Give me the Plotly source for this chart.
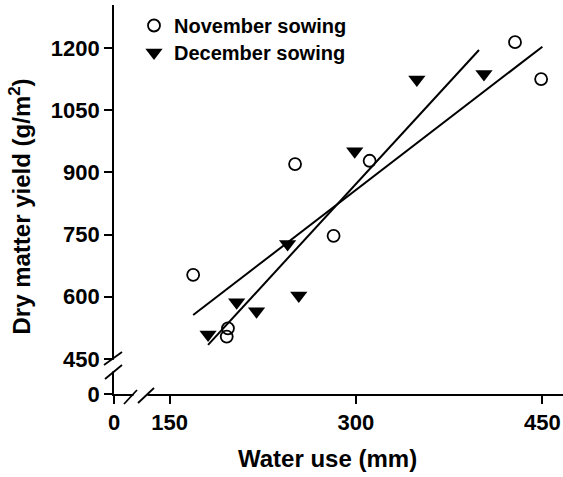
import plotly.graph_objects as go

# ---- data ----
nov_water = [169, 196, 197, 251, 282, 311, 428, 449]
nov_yield = [653, 504, 524, 920, 747, 928, 1214, 1125]
dec_water = [181, 204, 220, 245, 254, 299, 349, 403]
dec_yield = [509, 587, 565, 727, 603, 951, 1124, 1137]

# fitted regression lines (end points)
nov_fit_water = [169, 450]
nov_fit_yield = [556, 1203]
dec_fit_water = [181, 399]
dec_fit_yield = [484, 1195]

# axes (broken): "0" is drawn at the break position
x_zero_pos = 105.3
y_zero_pos = 365.6
x_tick_vals = [x_zero_pos, 150, 300, 450]
x_tick_text = ["0", "150", "300", "450"]
y_tick_vals = [y_zero_pos, 450, 600, 750, 900, 1050, 1200]
y_tick_text = ["0", "450", "600", "750", "900", "1050", "1200"]

W, H = 563, 477
ML, MR, MT, MB = 114, 0, 5, 83
PW = W - ML - MR
PH = H - MT - MB


def px(x):
    return (x - ML) / PW


def py(y):
    return (H - MB - y) / PH


FONT = "Liberation Sans, Arial, sans-serif"
BOLD = dict(family=FONT, color="black", weight="bold")

fig = go.Figure()
fig.add_trace(go.Scatter(x=nov_fit_water, y=nov_fit_yield, mode="lines",
                         line=dict(color="black", width=2), showlegend=False,
                         hoverinfo="skip"))
fig.add_trace(go.Scatter(x=dec_fit_water, y=dec_fit_yield, mode="lines",
                         line=dict(color="black", width=2), showlegend=False,
                         hoverinfo="skip"))
fig.add_trace(go.Scatter(x=nov_water, y=nov_yield, mode="markers",
                         name="November sowing", legend="legend",
                         marker=dict(symbol="circle-open", size=12,
                                     color="black", line=dict(width=1.8))))
fig.add_trace(go.Scatter(x=dec_water, y=dec_yield, mode="markers",
                         name="December sowing", legend="legend2",
                         marker=dict(symbol="triangle-down", size=15,
                                     color="black")))

shapes = []
# gaps in the axis lines at the breaks
shapes.append(dict(type="rect", xref="paper", yref="paper",
                   x0=px(110.5), x1=px(117), y0=py(371.5), y1=py(359.8),
                   fillcolor="white", line=dict(width=0), layer="above"))
shapes.append(dict(type="rect", xref="paper", yref="paper",
                   x0=px(133.5), x1=px(147.5), y0=py(397), y1=py(390),
                   fillcolor="white", line=dict(width=0), layer="above"))
# break slashes
for (x0, y0, x1, y1) in [(104, 365, 122, 352), (105, 379, 122, 365),
                         (124, 404, 137, 390), (138, 403, 154, 388)]:
    shapes.append(dict(type="line", xref="paper", yref="paper",
                       x0=px(x0), y0=py(y0), x1=px(x1), y1=py(y1),
                       line=dict(color="black", width=1.8), layer="above"))

annotations = [
    dict(text="Dry matter yield (g/m<sup>2</sup>)", xref="paper", yref="paper",
         x=px(19), y=py(206.5), textangle=-90, showarrow=False,
         xanchor="center", yanchor="middle",
         font=dict(BOLD, size=24)),
    dict(text="Water use (mm)", xref="paper", yref="paper",
         x=px(327), y=py(458), showarrow=False,
         xanchor="center", yanchor="middle",
         font=dict(BOLD, size=24)),
]

legend_common = dict(xanchor="left", yanchor="top", bgcolor="rgba(0,0,0,0)",
                     font=dict(BOLD, size=20), itemwidth=30)

fig.update_layout(
    width=W, height=H,
    margin=dict(l=ML, r=MR, t=MT, b=MB, pad=0),
    paper_bgcolor="white", plot_bgcolor="white",
    font=dict(BOLD, size=22),
    showlegend=True,
    legend=dict(legend_common, x=px(134), y=py(6)),
    legend2=dict(legend_common, x=px(134), y=py(33)),
    shapes=shapes, annotations=annotations,
    xaxis=dict(range=[x_zero_pos, 466.6], tickvals=x_tick_vals,
               ticktext=x_tick_text, showline=True, linecolor="black",
               linewidth=1.6, ticks="outside", ticklen=8, tickwidth=1.5,
               tickcolor="black", showgrid=False, zeroline=False,
               tickfont=dict(BOLD, size=22)),
    yaxis=dict(range=[y_zero_pos, 1303.6], tickvals=y_tick_vals,
               ticktext=y_tick_text, showline=True, linecolor="black",
               linewidth=1.6, ticks="outside", ticklen=8, tickwidth=1.5,
               tickcolor="black", showgrid=False, zeroline=False,
               tickfont=dict(BOLD, size=22)),
)

fig.write_html("out.html")
